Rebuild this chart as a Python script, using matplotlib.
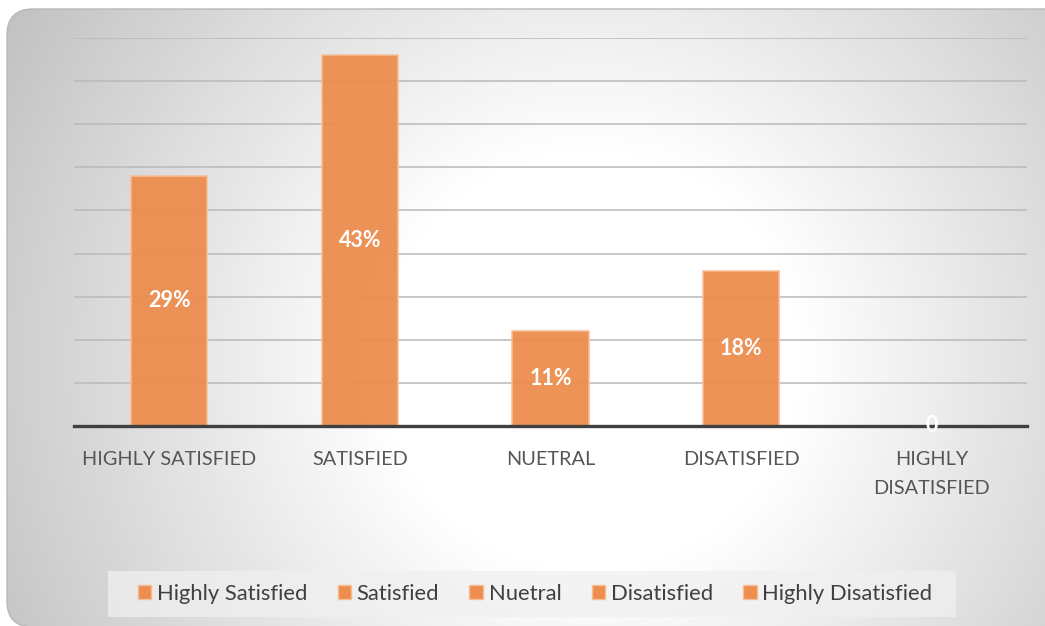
import numpy as np
import matplotlib
matplotlib.use("Agg")
import matplotlib.pyplot as plt
from matplotlib.patches import FancyBboxPatch, Rectangle, Patch

# Survey responses (% of respondents)
categories = ["HIGHLY SATISFIED", "SATISFIED", "NUETRAL", "DISATISFIED", "HIGHLY\nDISATISFIED"]
legend_labels = ["Highly Satisfied", "Satisfied", "Nuetral", "Disatisfied", "Highly Disatisfied"]
values = [29, 43, 11, 18, 0]

W, H, DPI = 1045, 626, 100
BAR = "#ED8D4E"
BAR_EDGE = "#F6BE96"
FONT = "Lato"

plt.rcParams["font.family"] = [FONT, "DejaVu Sans"]

fig = plt.figure(figsize=(W / DPI, H / DPI), dpi=DPI)
fig.patch.set_facecolor("white")

# Rounded chart card with a radial grey-to-white fill
bg = fig.add_axes([0, 0, 1, 1], zorder=-5)
bg.set_xlim(0, W)
bg.set_ylim(H, 0)
bg.axis("off")
yy, xx = np.mgrid[0:H, 0:W]
d = np.hypot(xx - 590, yy - 360) / 700.0
shade = np.clip(255 - 92 * np.clip(d - 0.3, 0, None), 185, 255) / 255.0
img = np.dstack([shade, shade, shade])
im = bg.imshow(img, extent=(0, W, H, 0), interpolation="bilinear", zorder=0)
card = FancyBboxPatch((7, 9), W + 40, H - 8, boxstyle="round,pad=0,rounding_size=26",
                      transform=bg.transData, facecolor="none", edgecolor="#b8b8b8", lw=1.0, zorder=1)
bg.add_patch(card)
im.set_clip_path(card)

# Legend background strip
bg.add_patch(Rectangle((108, 571), 848, 46, facecolor="#f0f0f0", alpha=0.75, edgecolor="none", zorder=2))

# Plot area
left, right, top, base = 74, 1027, 38, 426
ax = fig.add_axes([left / W, (H - base) / H, (right - left) / W, (base - top) / H])
ax.set_facecolor("none")
ax.set_xlim(-0.5, len(categories) - 0.5)
ax.set_ylim(0, 45)
ax.set_yticks(np.arange(0, 46, 5))
ax.yaxis.grid(True, color="#b9b9b9", lw=1.1)
ax.set_axisbelow(True)
for s in ["top", "right", "left"]:
    ax.spines[s].set_visible(False)
ax.spines["bottom"].set_color("#404040")
ax.spines["bottom"].set_linewidth(2.4)
ax.spines["bottom"].set_zorder(5)
ax.tick_params(axis="y", left=False, labelleft=False)
ax.tick_params(axis="x", bottom=False, pad=14.5)

x = np.arange(len(categories))
handles = []
for i, (v, lab) in enumerate(zip(values, legend_labels)):
    ax.bar(x[i], v, width=0.4, color=BAR, alpha=0.95, edgecolor=BAR_EDGE, lw=1.2,
           label=lab, zorder=3)
    handles.append(Patch(facecolor=BAR, edgecolor=BAR_EDGE, lw=1.0, label=lab))
    txt = f"{v}%" if v else "0"
    ax.text(x[i], v / 2, txt, ha="center", va="center", color="white",
            fontsize=15.5, fontweight="bold", zorder=6)

ax.set_xticks(x)
ax.set_xticklabels(categories, fontsize=14.3, color="#555555", linespacing=1.85)

fig.legend(handles=handles, loc="center", bbox_to_anchor=(535 / W, (H - 594) / H),
           ncol=5, frameon=False, fontsize=15.8, handlelength=0.62, handleheight=0.62,
           handletextpad=0.25, columnspacing=1.38, labelcolor="#404040")

fig.savefig("out.png", dpi=DPI, facecolor=fig.get_facecolor())
